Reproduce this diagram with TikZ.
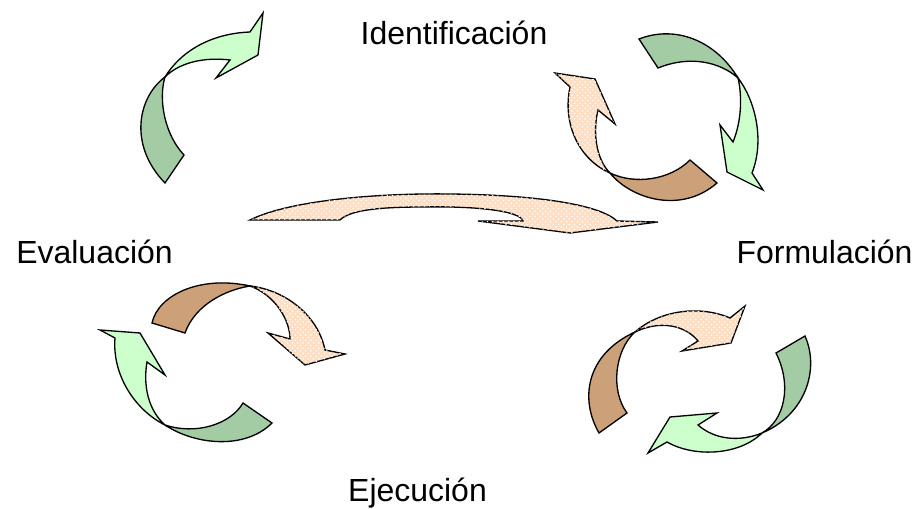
\documentclass[tikz,border=0pt]{standalone}
\usepackage{fontspec}
\setmainfont{Liberation Sans}
\usetikzlibrary{patterns}
\definecolor{leafdark}{RGB}{164,204,164}
\definecolor{leaflight}{RGB}{204,255,204}
\definecolor{bark}{RGB}{204,160,120}
\definecolor{peach}{RGB}{255,222,196}
\begin{document}
\begin{tikzpicture}[
    x=0.02cm, y=-0.02cm,
    line join=miter,
    stage/.style={
        font=\fontsize{18.2}{22}\selectfont, inner sep=0pt, anchor=base
    },
    outline/.style={draw=black, line width=0.75pt},
    darkgreen/.style={outline, fill=leafdark},
    lightgreen/.style={outline, fill=leaflight},
    brown/.style={outline, fill=bark},
    dotted peach/.style={
        outline, fill=peach,
        postaction={pattern=crosshatch dots, pattern color=white}
    }
]
\useasboundingbox (0,0) rectangle (919,509);

% labels
\node[stage] (ident) at (454,45) {Identificación};
\node[stage] (eval) at (94.5,264) {Evaluación};
\node[stage] (form) at (824.5,264) {Formulación};
\node[stage] (ejec) at (417.5,501) {Ejecución};

% top left
\draw[lightgreen] (165,77) .. controls (185,45) and (220,33) .. (250,32) -- (263,13) -- (258,55) -- (216,78)
    -- (230,60) .. controls (205,57) and (180,62) .. (165,77) -- cycle;
\draw[darkgreen] (165,77) .. controls (138,97) and (128,145) .. (165,183) -- (184,155)
    .. controls (165,135) and (158,100) .. (165,77) -- cycle;

% top right
\draw[dotted peach] (610,173) .. controls (580,160) and (562,125) .. (570,87) -- (555,73) -- (595,79) -- (615,124)
    -- (598,110) .. controls (593,130) and (595,158) .. (610,173) -- cycle;
\draw[brown] (610,173) .. controls (630,198) and (680,215) .. (717,183) -- (690,160)
    .. controls (670,180) and (635,185) .. (610,173) -- cycle;
\draw[darkgreen] (639,39) .. controls (675,25) and (715,40) .. (738,78)
    .. controls (720,62) and (690,55) .. (658,68) -- cycle;
\draw[lightgreen] (738,78) .. controls (755,100) and (765,140) .. (752,173) -- (763,190) -- (727,172) -- (720,125)
    -- (733,142) .. controls (742,120) and (742,95) .. (738,78) -- cycle;

% middle
\draw[dotted peach] (250,220) .. controls (290,200) and (380,193) .. (450,194)
    .. controls (540,195) and (600,205) .. (617,221) -- (658,222) -- (570,233) -- (478,221) -- (523,221)
    .. controls (520,210) and (470,206) .. (423,207) .. controls (380,207) and (350,210) .. (340,220) -- cycle;

% bottom left
\draw[brown] (152,323) .. controls (158,295) and (200,275) .. (250,286)
    .. controls (225,290) and (195,305) .. (185,333) -- cycle;
\draw[dotted peach] (250,286) .. controls (285,290) and (318,315) .. (325,350) -- (345,354) -- (305,365) -- (268,333)
    -- (290,339) .. controls (290,320) and (275,295) .. (250,286) -- cycle;
\draw[lightgreen] (165,425) .. controls (135,410) and (112,375) .. (115,338) -- (100,330) -- (140,333) -- (165,375)
    -- (147,362) .. controls (143,385) and (148,410) .. (165,425) -- cycle;
\draw[darkgreen] (165,425) .. controls (195,445) and (245,450) .. (272,423) -- (243,403)
    .. controls (230,425) and (195,435) .. (165,425) -- cycle;

% bottom right
\draw[brown] (599,433) .. controls (580,400) and (585,355) .. (635,332)
    .. controls (615,350) and (610,390) .. (627,413) -- cycle;
\draw[dotted peach] (635,332) .. controls (660,310) and (700,305) .. (730,318) -- (745,306) -- (731,343) -- (682,351)
    -- (698,341) .. controls (685,325) and (660,320) .. (635,332) -- cycle;
\draw[darkgreen] (776,353) -- (805,336) .. controls (820,370) and (805,415) .. (762,433)
    .. controls (785,420) and (792,385) .. (776,353) -- cycle;
\draw[lightgreen] (762,433) .. controls (740,455) and (695,458) .. (667,442) -- (648,453) -- (670,417) -- (717,413)
    -- (698,425) .. controls (715,440) and (740,442) .. (762,433) -- cycle;
\end{tikzpicture}
\end{document}
